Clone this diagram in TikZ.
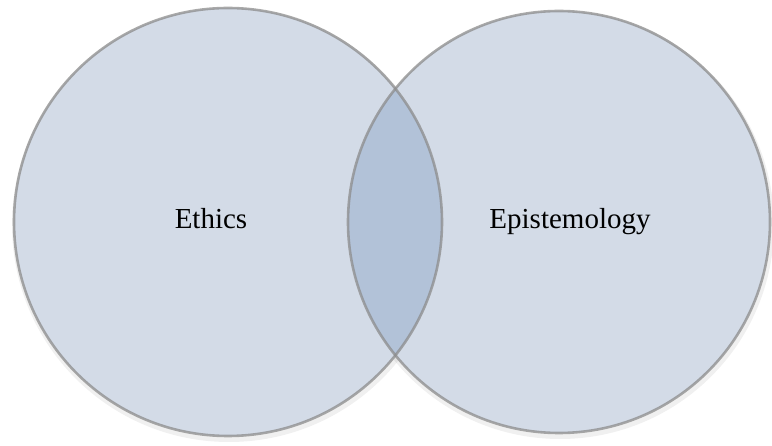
\documentclass[tikz,border=0pt]{standalone}
\usepackage{fontspec}
\setmainfont{Liberation Serif}
\usepackage{tikz}
\usetikzlibrary{positioning}

\definecolor{setfill}{HTML}{D3DBE7}
\definecolor{meetfill}{HTML}{B2C2D8}
\definecolor{rimgray}{HTML}{8C8C8C}

\tikzset{
    rim/.style={draw=rimgray, draw opacity=0.75, line width=2.6pt},
    halo/.style={draw=black, draw opacity=0.06, line width=6pt},
    setlabel/.style={font=\fontsize{29}{32}\selectfont, text=black, anchor=base}
}

\begin{document}
\begin{tikzpicture}[x=1pt, y=-1pt]
    \useasboundingbox (0,0) rectangle (772,446);

    % Shadows
    \draw[halo] (229,225) circle (214);
    \draw[halo] (560,225) circle (211);

    % Sets
    \fill[setfill] (228,222) circle (214);
    \fill[setfill] (559,222) circle (211);

    % Overlap
    \begin{scope}
        \clip (228,222) circle (214);
        \fill[meetfill] (559,222) circle (211);
    \end{scope}

    % Outlines
    \draw[rim] (228,222) circle (214);
    \draw[rim] (559,222) circle (211);

    % Labels
    \node[setlabel] (ethics) at (211,229) {Ethics};
    \node[setlabel] (episteme) at (570,229) {Epistemology};

\end{tikzpicture}
\end{document}
